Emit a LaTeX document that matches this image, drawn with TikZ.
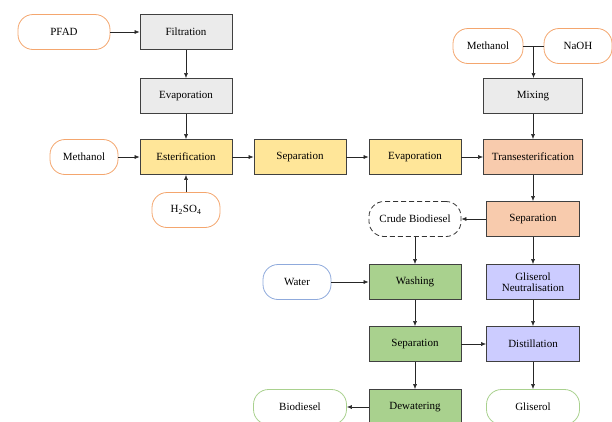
\documentclass[tikz,border=0pt]{standalone}
\usepackage{fontspec}
\setmainfont{Liberation Serif}
\usepackage{xcolor}
\usetikzlibrary{arrows.meta,calc}

\definecolor{boxgray}{HTML}{EBEBEB}
\definecolor{boxyellow}{HTML}{FFE699}
\definecolor{boxorange}{HTML}{F8CBAD}
\definecolor{boxgreen}{HTML}{A9D18E}
\definecolor{boxblue}{HTML}{CCCCFF}
\definecolor{edgeorange}{HTML}{F4A66E}
\definecolor{edgeblue}{HTML}{8FAADC}
\definecolor{edgegreen}{HTML}{A9D18E}

\begin{document}
\begin{tikzpicture}[x=1pt, y=-1pt,
    every node/.style = {align=center, font=\fontsize{11}{11.5}\selectfont},
    proc/.style = {shape=rectangle, draw=black!75, line width=0.8pt,
      minimum width=92pt, minimum height=35pt, inner sep=1pt},
    feed/.style = {shape=rectangle, rounded corners=15pt, draw, line width=0.8pt,
      fill=white, minimum height=35pt, inner sep=1pt},
    flow/.style = {-{Latex[length=5pt,width=4pt]}, line width=0.6pt, black!85}]
  \useasboundingbox (0,0) rectangle (612,421);

  % left column
  \node[feed, draw=edgeorange, minimum width=92pt] (pfad) at (64,32) {PFAD};
  \node[proc, fill=boxgray] (filt) at (186,32) {Filtration};
  \node[proc, fill=boxgray] (evap1) at (186,96) {Evaporation};
  \node[feed, draw=edgeorange, minimum width=68pt] (meth1) at (84,157) {Methanol};
  \node[proc, fill=boxyellow] (ester) at (186,157) {Esterification};
  \node[feed, draw=edgeorange, minimum width=68pt] (acid) at (186,210) {H\textsubscript{2}SO\textsubscript{4}};

  % middle row
  \node[proc, fill=boxyellow] (sep1) at (300,157) {Separation};
  \node[proc, fill=boxyellow] (evap2) at (415,157) {Evaporation};

  % right column
  \node[feed, draw=edgeorange, minimum width=70pt] (meth2) at (488,46) {Methanol};
  \node[feed, draw=edgeorange, minimum width=68pt] (naoh) at (578,46) {NaOH};
  \node[proc, fill=boxgray, minimum width=99pt] (mix) at (533,96) {Mixing};
  \node[proc, fill=boxorange, minimum width=99pt] (trans) at (533,157) {Transesterification};
  \node[proc, fill=boxorange, minimum width=93pt] (sep2) at (533,219) {Separation};
  \node[feed, dash pattern=on 5pt off 3pt, draw=black!80, minimum width=92pt] (crude) at (415,219) {Crude Biodiesel};

  % purification
  \node[feed, draw=edgeblue, minimum width=68pt] (water) at (297,282) {Water};
  \node[proc, fill=boxgreen] (wash) at (415,282) {Washing};
  \node[proc, fill=boxblue, minimum width=93pt] (neut) at (533,282) {Gliserol\\Neutralisation};
  \node[proc, fill=boxgreen] (sep3) at (415,344) {Separation};
  \node[proc, fill=boxblue, minimum width=93pt] (dist) at (533,344) {Distillation};
  \node[feed, draw=edgegreen, minimum width=93pt] (bio) at (300,407) {Biodiesel};
  \node[proc, fill=boxgreen] (dewat) at (415,407) {Dewatering};
  \node[feed, draw=edgegreen, minimum width=93pt] (glis) at (533,407) {Gliserol};

  \coordinate (join) at ($(meth2.east)!0.5!(naoh.west)$);

  \draw[flow] (pfad) -- (filt);
  \draw[flow] (filt) -- (evap1);
  \draw[flow] (evap1) -- (ester);
  \draw[flow] (meth1) -- (ester);
  \draw[flow] (acid) -- (ester);
  \draw[flow] (ester) -- (sep1);
  \draw[flow] (sep1) -- (evap2);
  \draw[flow] (evap2) -- (trans);
  \draw[line width=0.6pt, black!85] (meth2) -- (naoh);
  \draw[flow] (join) -- (join |- mix.north);
  \draw[flow] (mix) -- (trans);
  \draw[flow] (trans) -- (sep2);
  \draw[flow] (sep2) -- (crude);
  \draw[flow] (crude) -- (wash);
  \draw[flow] (sep2) -- (neut);
  \draw[flow] (water) -- (wash);
  \draw[flow] (wash) -- (sep3);
  \draw[flow] (neut) -- (dist);
  \draw[flow] (sep3) -- (dist);
  \draw[flow] (sep3) -- (dewat);
  \draw[flow] (dist) -- (glis);
  \draw[flow] (dewat) -- (bio);
\end{tikzpicture}
\end{document}
